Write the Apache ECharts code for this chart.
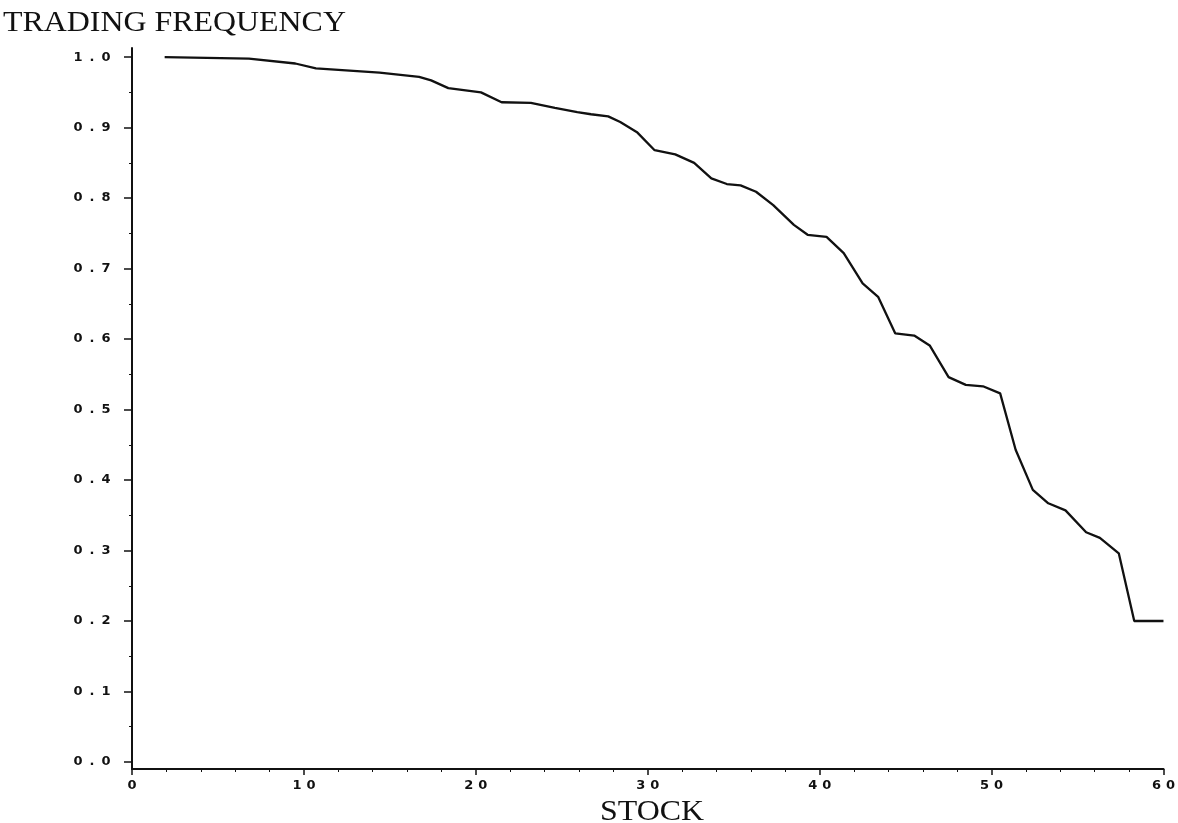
<!DOCTYPE html>
<html>
<head>
<meta charset="utf-8">
<script src="https://cdn.jsdelivr.net/npm/echarts@6/dist/echarts.min.js"></script>
<style>
html,body{margin:0;padding:0;background:#fff;}
#chart{width:1178px;height:823px;}
</style>
</head>
<body>
<div id="chart"></div>
<script>
// Stock rank (position along the x axis) and trading frequency
var stock = [1.9, 6.8, 9.5, 10.7, 14.4, 16.7, 17.4, 18.4, 20.3, 21.5, 23.2, 24.6, 25.9, 26.7, 27.7, 28.4, 29.4, 30.4, 31.6, 32.7, 33.7, 34.6, 35.4, 36.3, 37.3, 38.5, 39.3, 40.4, 41.4, 42.5, 43.4, 44.4, 45.5, 46.4, 47.5, 48.5, 49.5, 50.5, 51.4, 52.4, 53.3, 54.3, 55.5, 56.3, 57.4, 58.3, 60];
var frequency = [1.000, 0.998, 0.991, 0.984, 0.978, 0.972, 0.967, 0.956, 0.950, 0.936, 0.935, 0.928, 0.922, 0.919, 0.916, 0.908, 0.893, 0.868, 0.862, 0.850, 0.828, 0.820, 0.818, 0.809, 0.790, 0.762, 0.748, 0.745, 0.722, 0.679, 0.660, 0.608, 0.605, 0.591, 0.546, 0.535, 0.533, 0.523, 0.443, 0.386, 0.367, 0.357, 0.326, 0.318, 0.296, 0.200, 0.200];
var yTicks = [0, 0.1, 0.2, 0.3, 0.4, 0.5, 0.6, 0.7, 0.8, 0.9, 1.0];
var yMinorTicks = [0.05, 0.15, 0.25, 0.35, 0.45, 0.55, 0.65, 0.75, 0.85, 0.95];
var xTicks = [0, 10, 20, 30, 40, 50, 60];
var yTitle = 'TRADING FREQUENCY';
var xTitle = 'STOCK';

var pts = stock.map(function (s, i) { return [s, frequency[i]]; });

function spaced(str) {
  return str.split('').map(function (c) { return '{c|' + c + '}'; }).join('');
}
var labelRich = {
  c: { width: 14, align: 'center', fontFamily: 'DejaVu Sans', fontWeight: 'bold', fontSize: 13, color: '#111' }
};

var chart = echarts.init(document.getElementById('chart'), null, { renderer: 'canvas' });
chart.setOption({
  backgroundColor: '#fff',
  animation: false,
  graphic: [{
    type: 'text', left: 3, top: 9, scaleX: 1.1,
    style: { text: yTitle, font: '29px "Liberation Serif"', fill: '#111' }
  }, {
    type: 'text', x: 652, y: 812, scaleX: 1.1, originX: 0,
    style: { text: xTitle, font: '29px "Liberation Serif"', fill: '#111', align: 'center', verticalAlign: 'middle' }
  }],
  grid: { left: 132, right: 6, top: 48, bottom: 54, containLabel: false },
  xAxis: {
    type: 'value', min: 0, max: 60,
    axisLine: { show: true, onZero: false, lineStyle: { color: '#111', width: 2 } },
    axisTick: { show: true, customValues: xTicks, length: 6, inside: false, lineStyle: { color: '#111', width: 1.5 } },
    minorTick: { show: true, splitNumber: 5, length: 3, lineStyle: { color: '#111', width: 1 } },
    axisLabel: {
      customValues: xTicks, margin: 10,
      formatter: function (v) { return spaced(String(v)); }, rich: labelRich
    },
    splitLine: { show: false }
  },
  yAxis: [{
    type: 'value', min: -0.01, max: 1.013,
    axisLine: { show: true, onZero: false, lineStyle: { color: '#111', width: 2 } },
    axisTick: { show: true, customValues: yTicks, length: 8, lineStyle: { color: '#111', width: 1.5 } },
    axisLabel: {
      customValues: yTicks, margin: 19,
      formatter: function (v) { return spaced(v.toFixed(1)); }, rich: labelRich
    },
    splitLine: { show: false }
  }, {
    type: 'value', min: -0.01, max: 1.013, position: 'left', offset: 0,
    axisLine: { show: false },
    axisTick: { show: true, customValues: yMinorTicks, length: 3, lineStyle: { color: '#111', width: 1 } },
    axisLabel: { show: false },
    splitLine: { show: false }
  }],
  series: [{
    type: 'line', data: pts, xAxisIndex: 0, yAxisIndex: 0,
    showSymbol: false, smooth: false,
    lineStyle: { color: '#111', width: 2.3 }
  }]
});
</script>
</body>
</html>
